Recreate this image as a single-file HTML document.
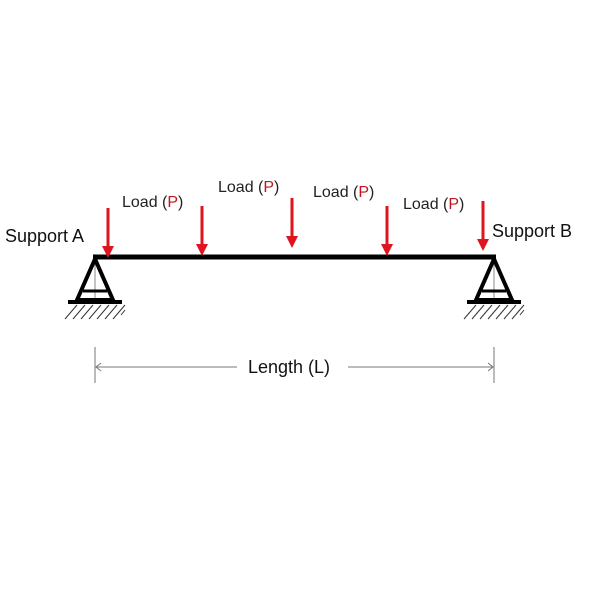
<!DOCTYPE html>
<html><head><style>body{margin:0;background:#fff}</style></head><body>
<svg width="600" height="600" viewBox="0 0 600 600" xmlns="http://www.w3.org/2000/svg" font-family="Liberation Sans, Arial, sans-serif">
<rect width="600" height="600" fill="#fff"/>
<defs>
<g id="sup">
<line x1="0" y1="0" x2="0" y2="42" stroke="#888" stroke-width="1"/>
<polygon points="0,2 -18,43 18,43" fill="none" stroke="#000" stroke-width="4" stroke-linejoin="miter"/>
<line x1="-12" y1="34" x2="12" y2="34" stroke="#000" stroke-width="3"/>
<line x1="-27" y1="45" x2="27" y2="45" stroke="#000" stroke-width="4"/>
<g stroke="#333" stroke-width="1">
<line x1="-30" y1="62" x2="-18" y2="48"/><line x1="-22" y1="62" x2="-10" y2="48"/><line x1="-14" y1="62" x2="-2" y2="48"/>
<line x1="-6" y1="62" x2="6" y2="48"/><line x1="2" y1="62" x2="14" y2="48"/><line x1="10" y1="62" x2="22" y2="48"/>
<line x1="18" y1="62" x2="30" y2="48"/><line x1="26" y1="58" x2="30" y2="53"/>
</g>
</g>
<g id="arr"><line x1="0" y1="0" x2="0" y2="40" stroke="#e0141e" stroke-width="3"/><polygon points="-6,38 6,38 0,50" fill="#e0141e"/></g>
</defs>
<line x1="93" y1="257" x2="496" y2="257" stroke="#000" stroke-width="5"/>
<use href="#sup" x="95" y="257"/>
<use href="#sup" x="494" y="257"/>
<use href="#arr" x="108" y="208"/>
<use href="#arr" x="202" y="206"/>
<use href="#arr" x="292" y="198"/>
<use href="#arr" x="387" y="206"/>
<use href="#arr" x="483" y="201"/>
<g font-size="16" fill="#222">
<text x="122" y="207">Load (<tspan fill="#c0141e">P</tspan>)</text>
<text x="218" y="192">Load (<tspan fill="#c0141e">P</tspan>)</text>
<text x="313" y="197">Load (<tspan fill="#c0141e">P</tspan>)</text>
<text x="403" y="209">Load (<tspan fill="#c0141e">P</tspan>)</text>
</g>
<g font-size="18" fill="#111">
<text x="5" y="242">Support A</text>
<text x="492" y="237">Support B</text>
<text x="248" y="373">Length (L)</text>
</g>
<g stroke="#777" stroke-width="1" fill="none">
<line x1="95" y1="347" x2="95" y2="383"/>
<line x1="494" y1="347" x2="494" y2="383"/>
<line x1="96" y1="367" x2="237" y2="367"/>
<line x1="348" y1="367" x2="493" y2="367"/>
<polyline points="101,363 96,367 101,371"/>
<polyline points="488,363 493,367 488,371"/>
</g>
</svg>
</body></html>
